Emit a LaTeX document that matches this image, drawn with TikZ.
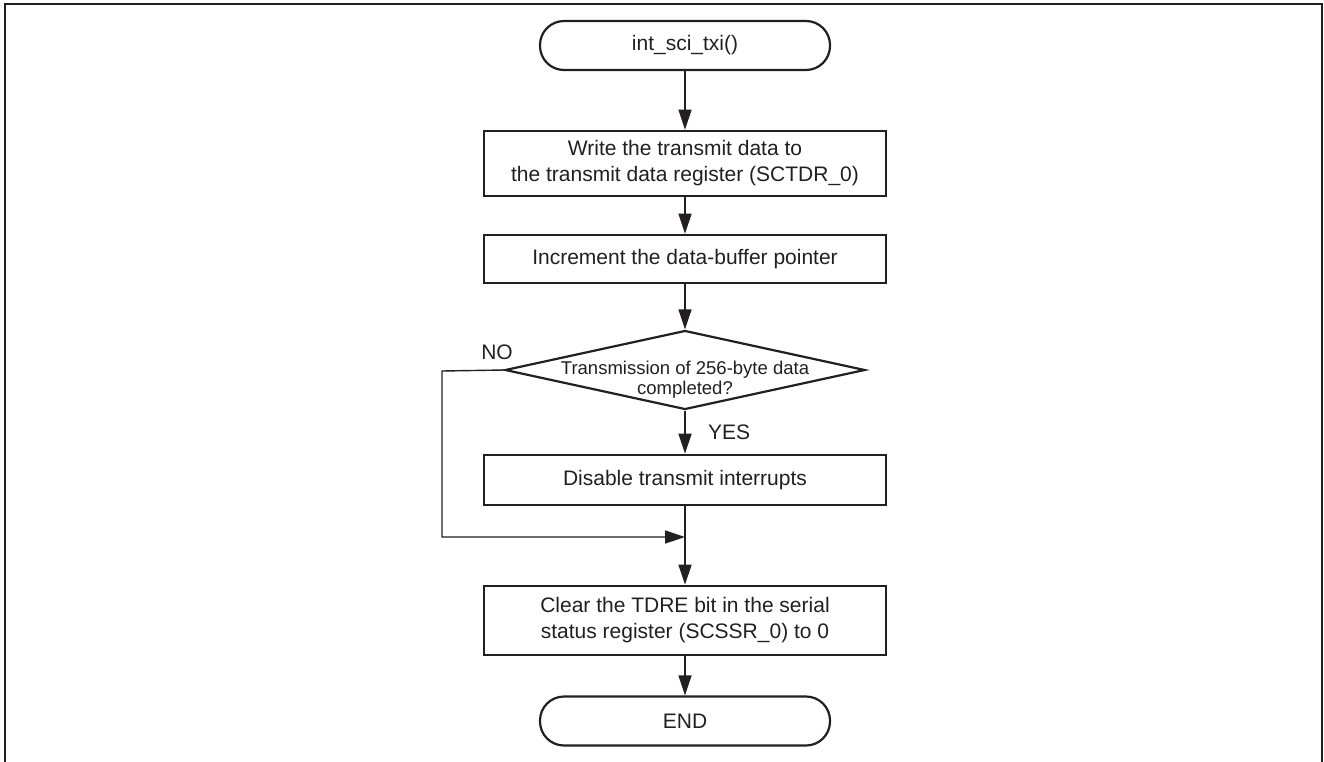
\documentclass[tikz,border=0pt]{standalone}
\usepackage{fontspec}
\setmainfont{Liberation Sans}
\usetikzlibrary{arrows.meta,shapes.geometric}
\definecolor{ink}{HTML}{231F20}
\begin{document}
\begin{tikzpicture}[x=1pt,y=-1pt,
  txt/.style={font=\fontsize{21}{26}\selectfont, text=ink, align=center},
  term/.style={txt, draw=ink, line width=2.2pt, rounded corners=24pt, minimum width=290pt, minimum height=49pt, inner sep=0pt},
  proc/.style={txt, draw=ink, line width=2.6pt, minimum width=402pt, inner sep=0pt},
  decision/.style={diamond, draw=ink, line width=2.2pt, minimum width=360pt, minimum height=79pt, inner sep=0pt},
  conn/.style={draw=ink, line width=1.4pt, -{Triangle[length=20pt,width=13pt]}},
  lbl/.style={txt, inner sep=0pt}
]
\useasboundingbox (0,0) rectangle (1324,761);
\draw[line width=2.5pt, ink] (5,762) -- (5,4) -- (1322,4) -- (1322,762);

\node[term] (start) at (685,45.5) {int\_sci\_txi()};
\node[proc, minimum height=65pt] (b1) at (685,163.5) {Write the transmit data to\\the transmit data register (SCTDR\_0)};
\node[proc, minimum height=48pt] (b2) at (685,259) {Increment the data-buffer pointer};
\node[decision] (d) at (685,370) {};
\node[txt, font=\fontsize{18.5}{20}\selectfont, inner sep=0pt] (dt) at (685,380) {Transmission of 256-byte data\\completed?};
\node[proc, minimum height=50pt] (b3) at (685,480) {Disable transmit interrupts};
\node[proc, minimum height=69pt] (b4) at (685,620.5) {Clear the TDRE bit in the serial\\status register (SCSSR\_0) to 0};
\node[term] (end) at (685,721) {END};

\node[lbl] (no) at (497,352) {NO};
\node[lbl] (yes) at (729,432) {YES};

\coordinate (nl) at (442,371);
\coordinate (nb) at (442,537);
\coordinate (jn) at (685,537);

\draw[conn] (start) -- (b1);
\draw[conn] (b1) -- (b2);
\draw[conn] (b2) -- (d.north);
\draw[conn] (d.south) -- (b3);
\draw[conn] (b3) -- (b4);
\draw[conn] (b4) -- (end);
\draw[conn] (d.west) -- (nl) -- (nb) -- (jn);
\end{tikzpicture}
\end{document}
